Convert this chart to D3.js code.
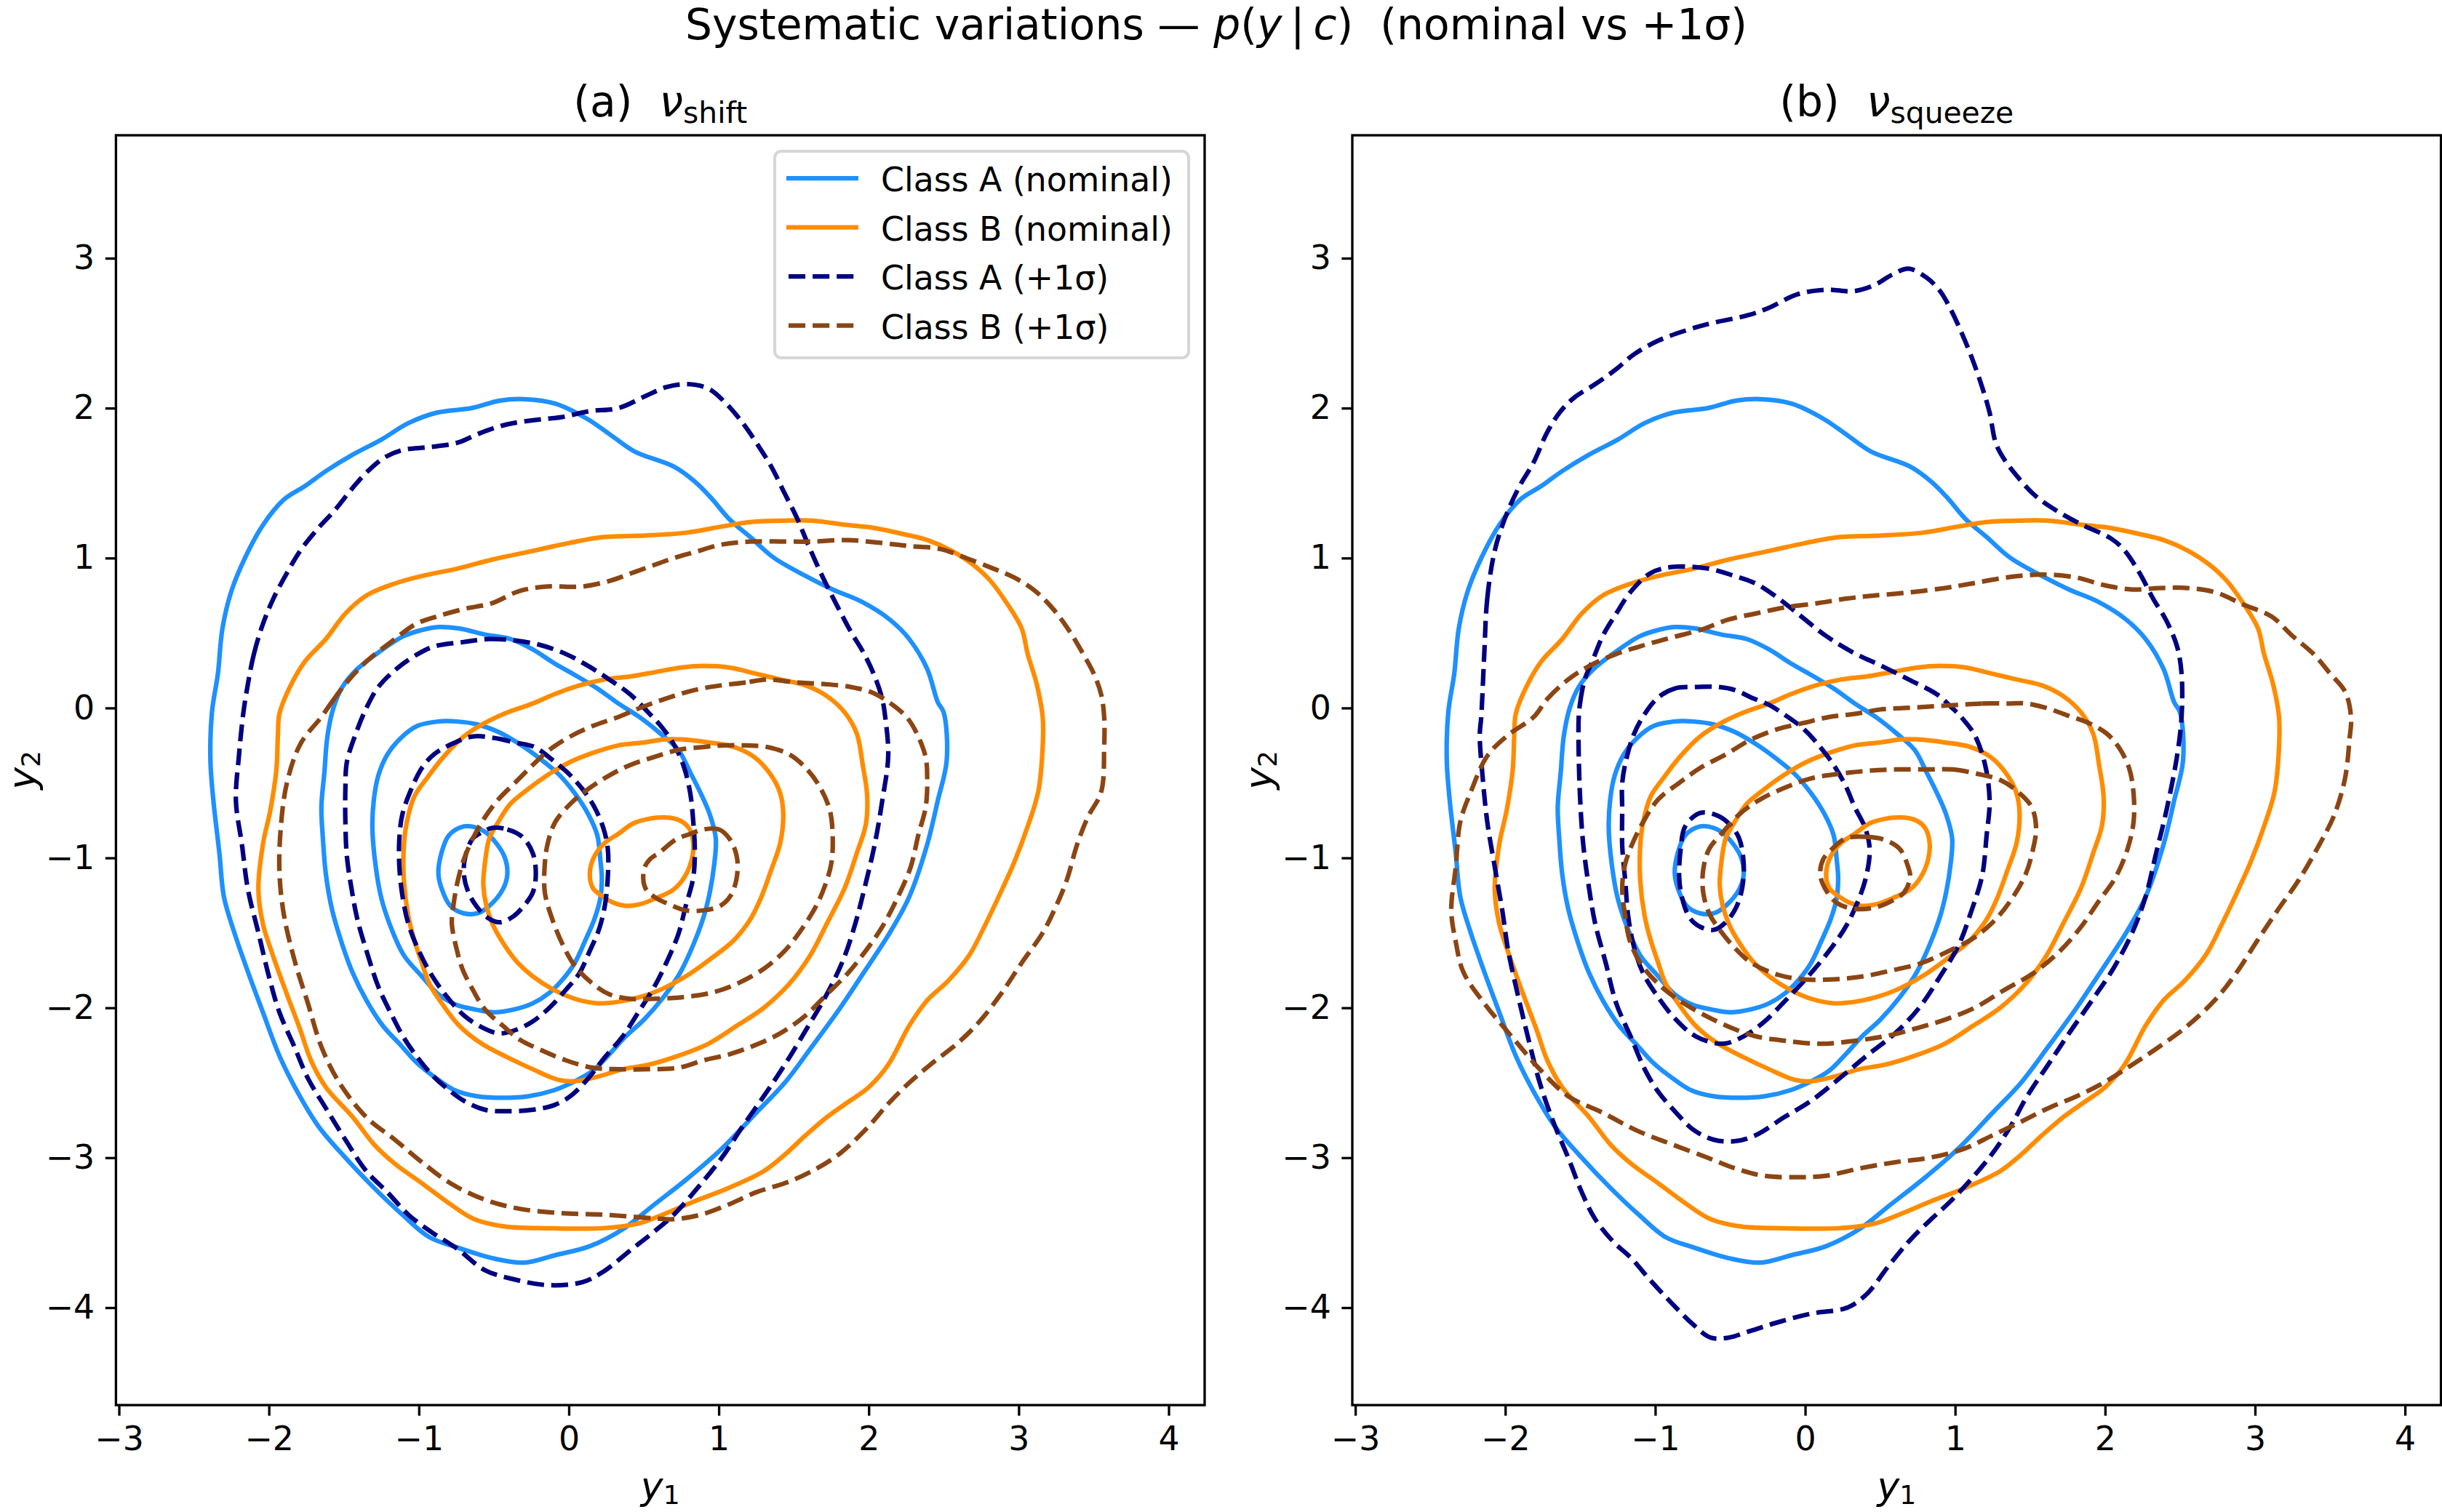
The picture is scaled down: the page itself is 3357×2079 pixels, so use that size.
<!DOCTYPE html>
<html>
<head>
<meta charset="utf-8">
<script src="https://cdn.jsdelivr.net/npm/d3@7"></script>
<style>
  body { margin: 0; background: #fff; }
  text { font-family: "DejaVu Sans", sans-serif; fill: #000; white-space: pre; }
</style>
</head>
<body>
<script>
// axis ticks and limits
var xTicks = [-3, -2, -1, 0, 1, 2, 3, 4];
var yTicks = [-4, -3, -2, -1, 0, 1, 2, 3];
var xLimits = [-3.02, 4.24];
var yLimits = [-4.65, 3.82];

var legendLabels = ["Class A (nominal)", "Class B (nominal)", "Class A (+1σ)", "Class B (+1σ)"];

// contour lines, outer level first: [y1, y2]
var classA_nominal = [
  [[-0.30,2.06],[-0.09,2.03],[0.12,1.93],[0.28,1.82],[0.44,1.71],[0.70,1.61],[0.84,1.51],[0.95,1.40],[1.07,1.26],[1.21,1.14],[1.37,1.00],[1.58,0.88],[1.76,0.79],[1.95,0.71],[2.14,0.59],[2.27,0.46],[2.39,0.26],[2.46,0.04],[2.50,-0.03],[2.52,-0.35],[2.46,-0.62],[2.39,-0.91],[2.27,-1.26],[2.14,-1.50],[1.97,-1.76],[1.81,-2.00],[1.62,-2.26],[1.44,-2.50],[1.25,-2.70],[1.02,-2.94],[0.79,-3.14],[0.56,-3.32],[0.37,-3.47],[0.14,-3.59],[-0.09,-3.65],[-0.30,-3.70],[-0.51,-3.67],[-0.74,-3.60],[-0.93,-3.53],[-1.11,-3.38],[-1.30,-3.20],[-1.49,-3.00],[-1.67,-2.79],[-1.81,-2.56],[-1.93,-2.32],[-2.04,-2.03],[-2.14,-1.76],[-2.23,-1.50],[-2.30,-1.26],[-2.33,-0.97],[-2.37,-0.62],[-2.39,-0.35],[-2.38,-0.03],[-2.34,0.23],[-2.31,0.53],[-2.25,0.78],[-2.16,1.00],[-2.04,1.22],[-1.90,1.39],[-1.76,1.48],[-1.62,1.58],[-1.44,1.69],[-1.25,1.79],[-1.07,1.90],[-0.88,1.97],[-0.65,2.00],[-0.46,2.05]],
  [[-0.87,0.54],[-0.73,0.53],[-0.56,0.49],[-0.39,0.46],[-0.24,0.39],[-0.10,0.30],[0.04,0.22],[0.19,0.13],[0.33,0.03],[0.47,-0.06],[0.61,-0.17],[0.73,-0.28],[0.81,-0.43],[0.88,-0.57],[0.94,-0.71],[0.98,-0.87],[0.97,-1.04],[0.94,-1.23],[0.90,-1.39],[0.83,-1.58],[0.74,-1.77],[0.63,-1.93],[0.50,-2.08],[0.38,-2.19],[0.27,-2.31],[0.16,-2.42],[0.04,-2.49],[-0.10,-2.55],[-0.27,-2.59],[-0.44,-2.60],[-0.61,-2.59],[-0.76,-2.55],[-0.87,-2.48],[-1.01,-2.37],[-1.12,-2.25],[-1.24,-2.12],[-1.35,-1.95],[-1.44,-1.77],[-1.51,-1.58],[-1.58,-1.34],[-1.62,-1.11],[-1.64,-0.87],[-1.65,-0.66],[-1.63,-0.43],[-1.61,-0.19],[-1.57,0.00],[-1.51,0.14],[-1.41,0.26],[-1.27,0.37],[-1.10,0.48],[-0.98,0.52]],
  [[-0.75,-0.09],[-0.61,-0.11],[-0.47,-0.16],[-0.33,-0.24],[-0.19,-0.34],[-0.07,-0.44],[0.04,-0.57],[0.13,-0.71],[0.19,-0.85],[0.21,-1.01],[0.22,-1.13],[0.21,-1.27],[0.17,-1.41],[0.11,-1.55],[0.04,-1.70],[-0.04,-1.81],[-0.13,-1.90],[-0.24,-1.97],[-0.36,-2.01],[-0.50,-2.03],[-0.63,-2.01],[-0.75,-1.98],[-0.87,-1.91],[-0.98,-1.79],[-1.10,-1.65],[-1.18,-1.48],[-1.25,-1.27],[-1.29,-1.04],[-1.31,-0.80],[-1.30,-0.61],[-1.27,-0.45],[-1.21,-0.31],[-1.12,-0.20],[-1.01,-0.12],[-0.87,-0.09]],
  [[-0.70,-0.79],[-0.61,-0.80],[-0.53,-0.85],[-0.43,-0.99],[-0.41,-1.11],[-0.44,-1.21],[-0.53,-1.32],[-0.61,-1.37],[-0.70,-1.37],[-0.79,-1.32],[-0.85,-1.20],[-0.87,-1.10],[-0.85,-0.97],[-0.80,-0.85]]
];

var classB_nominal = [
  [[-1.93,-0.04],[-1.86,0.14],[-1.76,0.31],[-1.62,0.46],[-1.49,0.63],[-1.35,0.75],[-1.16,0.83],[-0.98,0.88],[-0.74,0.93],[-0.51,0.99],[-0.23,1.05],[0.00,1.10],[0.23,1.14],[0.51,1.15],[0.79,1.17],[1.02,1.21],[1.21,1.24],[1.44,1.25],[1.62,1.25],[1.86,1.22],[2.04,1.20],[2.23,1.16],[2.39,1.12],[2.55,1.05],[2.69,0.96],[2.81,0.85],[2.92,0.70],[3.02,0.53],[3.06,0.36],[3.12,0.16],[3.16,-0.06],[3.16,-0.26],[3.13,-0.56],[3.06,-0.79],[2.97,-1.03],[2.88,-1.23],[2.78,-1.44],[2.67,-1.65],[2.53,-1.82],[2.39,-1.95],[2.27,-2.12],[2.13,-2.38],[2.00,-2.53],[1.86,-2.63],[1.72,-2.73],[1.58,-2.85],[1.44,-2.98],[1.30,-3.09],[1.07,-3.20],[0.84,-3.29],[0.65,-3.37],[0.46,-3.44],[0.23,-3.47],[-0.14,-3.47],[-0.42,-3.46],[-0.63,-3.41],[-0.79,-3.31],[-0.98,-3.17],[-1.16,-3.04],[-1.30,-2.91],[-1.44,-2.73],[-1.62,-2.53],[-1.72,-2.35],[-1.79,-2.15],[-1.88,-1.91],[-1.97,-1.66],[-2.04,-1.44],[-2.07,-1.21],[-2.04,-0.91],[-1.99,-0.68],[-1.95,-0.41],[-1.94,-0.18]],
  [[0.90,0.28],[1.07,0.27],[1.24,0.23],[1.41,0.19],[1.58,0.15],[1.72,0.08],[1.84,-0.03],[1.92,-0.17],[1.96,-0.38],[1.99,-0.59],[1.98,-0.78],[1.92,-0.97],[1.84,-1.20],[1.72,-1.44],[1.61,-1.65],[1.47,-1.84],[1.30,-2.00],[1.12,-2.12],[0.93,-2.24],[0.73,-2.32],[0.53,-2.38],[0.36,-2.41],[0.19,-2.46],[0.04,-2.49],[-0.07,-2.48],[-0.24,-2.41],[-0.41,-2.33],[-0.58,-2.24],[-0.73,-2.12],[-0.84,-1.98],[-0.93,-1.84],[-0.98,-1.70],[-1.03,-1.55],[-1.07,-1.39],[-1.10,-1.15],[-1.10,-0.92],[-1.08,-0.76],[-1.03,-0.59],[-0.94,-0.46],[-0.83,-0.32],[-0.70,-0.19],[-0.56,-0.10],[-0.41,-0.03],[-0.24,0.03],[-0.10,0.09],[0.07,0.15],[0.24,0.19],[0.41,0.21],[0.58,0.24],[0.75,0.27]],
  [[0.75,-0.21],[0.93,-0.23],[1.10,-0.26],[1.24,-0.33],[1.35,-0.45],[1.41,-0.57],[1.43,-0.71],[1.41,-0.90],[1.35,-1.08],[1.28,-1.27],[1.21,-1.41],[1.10,-1.55],[0.95,-1.67],[0.78,-1.79],[0.61,-1.88],[0.47,-1.93],[0.33,-1.96],[0.19,-1.97],[0.04,-1.94],[-0.10,-1.88],[-0.24,-1.79],[-0.34,-1.70],[-0.43,-1.58],[-0.50,-1.46],[-0.55,-1.32],[-0.57,-1.18],[-0.56,-1.04],[-0.53,-0.87],[-0.47,-0.76],[-0.39,-0.64],[-0.27,-0.54],[-0.13,-0.44],[0.01,-0.36],[0.16,-0.30],[0.33,-0.25],[0.50,-0.23],[0.64,-0.21]],
  [[0.53,-0.74],[0.64,-0.73],[0.74,-0.75],[0.80,-0.80],[0.83,-0.90],[0.82,-1.01],[0.77,-1.13],[0.70,-1.21],[0.58,-1.27],[0.47,-1.31],[0.38,-1.32],[0.30,-1.30],[0.23,-1.26],[0.16,-1.20],[0.14,-1.10],[0.17,-0.99],[0.24,-0.90],[0.33,-0.84],[0.43,-0.77]]
];

var classA_shift = [
  [[-2.14,0.16],[-2.10,0.36],[-2.04,0.56],[-1.97,0.73],[-1.88,0.90],[-1.79,1.05],[-1.67,1.20],[-1.56,1.32],[-1.44,1.47],[-1.35,1.57],[-1.23,1.67],[-1.11,1.72],[-0.93,1.74],[-0.74,1.77],[-0.60,1.83],[-0.42,1.89],[-0.23,1.92],[-0.05,1.94],[0.14,1.98],[0.33,2.00],[0.51,2.08],[0.65,2.14],[0.79,2.16],[0.93,2.13],[1.04,2.04],[1.16,1.90],[1.25,1.77],[1.35,1.61],[1.44,1.43],[1.52,1.27],[1.60,1.08],[1.69,0.88],[1.79,0.68],[1.88,0.51],[1.97,0.36],[2.04,0.21],[2.09,0.06],[2.11,-0.06],[2.13,-0.32],[2.09,-0.62],[2.04,-0.91],[1.97,-1.21],[1.91,-1.44],[1.83,-1.68],[1.72,-1.91],[1.58,-2.15],[1.44,-2.38],[1.30,-2.59],[1.16,-2.79],[1.02,-3.00],[0.86,-3.20],[0.70,-3.38],[0.56,-3.50],[0.42,-3.61],[0.23,-3.76],[0.09,-3.83],[-0.14,-3.85],[-0.37,-3.81],[-0.56,-3.75],[-0.74,-3.61],[-0.91,-3.50],[-1.07,-3.38],[-1.21,-3.23],[-1.35,-3.09],[-1.49,-2.88],[-1.62,-2.67],[-1.74,-2.47],[-1.83,-2.26],[-1.93,-2.03],[-2.00,-1.79],[-2.07,-1.50],[-2.14,-1.21],[-2.18,-0.91],[-2.22,-0.62],[-2.20,-0.32],[-2.17,-0.03]],
  [[-0.70,0.44],[-0.53,0.46],[-0.36,0.45],[-0.19,0.42],[-0.02,0.36],[0.13,0.28],[0.27,0.19],[0.41,0.09],[0.53,-0.03],[0.63,-0.14],[0.71,-0.26],[0.77,-0.40],[0.81,-0.57],[0.83,-0.76],[0.84,-0.94],[0.83,-1.13],[0.78,-1.32],[0.73,-1.51],[0.65,-1.70],[0.57,-1.86],[0.47,-2.02],[0.36,-2.19],[0.24,-2.33],[0.13,-2.47],[0.01,-2.59],[-0.10,-2.65],[-0.24,-2.68],[-0.41,-2.69],[-0.56,-2.68],[-0.70,-2.62],[-0.81,-2.54],[-0.91,-2.45],[-1.01,-2.33],[-1.10,-2.20],[-1.18,-2.05],[-1.27,-1.86],[-1.34,-1.65],[-1.41,-1.41],[-1.45,-1.20],[-1.48,-0.99],[-1.49,-0.76],[-1.49,-0.54],[-1.48,-0.36],[-1.42,-0.17],[-1.35,0.00],[-1.27,0.14],[-1.15,0.26],[-1.04,0.34],[-0.90,0.41]],
  [[-0.64,-0.19],[-0.50,-0.20],[-0.36,-0.23],[-0.23,-0.26],[-0.13,-0.33],[-0.01,-0.43],[0.09,-0.54],[0.17,-0.66],[0.23,-0.80],[0.26,-0.94],[0.26,-1.13],[0.24,-1.32],[0.20,-1.48],[0.14,-1.62],[0.07,-1.77],[-0.02,-1.88],[-0.13,-2.00],[-0.24,-2.09],[-0.36,-2.15],[-0.47,-2.17],[-0.58,-2.13],[-0.70,-2.05],[-0.81,-1.93],[-0.91,-1.79],[-1.00,-1.62],[-1.07,-1.44],[-1.11,-1.25],[-1.13,-1.06],[-1.13,-0.87],[-1.11,-0.71],[-1.05,-0.54],[-0.98,-0.40],[-0.90,-0.31],[-0.78,-0.24]],
  [[-0.51,-0.80],[-0.41,-0.81],[-0.31,-0.86],[-0.24,-0.97],[-0.22,-1.11],[-0.24,-1.23],[-0.30,-1.32],[-0.37,-1.39],[-0.46,-1.43],[-0.54,-1.40],[-0.61,-1.33],[-0.67,-1.23],[-0.70,-1.11],[-0.69,-0.99],[-0.64,-0.87],[-0.58,-0.83]]
];

var classB_shift = [
  [[-1.65,-0.06],[-1.58,0.04],[-1.49,0.16],[-1.35,0.31],[-1.16,0.46],[-1.02,0.56],[-0.88,0.61],[-0.70,0.66],[-0.51,0.70],[-0.33,0.78],[-0.14,0.81],[0.09,0.81],[0.28,0.85],[0.42,0.90],[0.56,0.95],[0.70,1.00],[0.84,1.04],[1.02,1.09],[1.21,1.11],[1.44,1.11],[1.62,1.11],[1.86,1.12],[2.09,1.10],[2.27,1.08],[2.48,1.06],[2.65,1.00],[2.83,0.93],[2.97,0.87],[3.11,0.78],[3.23,0.66],[3.34,0.51],[3.43,0.36],[3.50,0.23],[3.55,0.09],[3.57,-0.06],[3.57,-0.26],[3.55,-0.56],[3.46,-0.73],[3.39,-0.91],[3.32,-1.15],[3.25,-1.32],[3.16,-1.50],[3.02,-1.70],[2.88,-1.91],[2.74,-2.09],[2.60,-2.23],[2.41,-2.38],[2.27,-2.50],[2.13,-2.64],[2.00,-2.79],[1.81,-2.97],[1.62,-3.09],[1.44,-3.17],[1.25,-3.23],[1.07,-3.31],[0.88,-3.38],[0.70,-3.41],[0.51,-3.40],[0.23,-3.38],[-0.05,-3.37],[-0.33,-3.34],[-0.56,-3.28],[-0.79,-3.17],[-0.98,-3.03],[-1.16,-2.88],[-1.35,-2.73],[-1.53,-2.50],[-1.65,-2.26],[-1.74,-1.97],[-1.83,-1.68],[-1.90,-1.38],[-1.93,-1.09],[-1.92,-0.79],[-1.88,-0.50],[-1.79,-0.24]],
  [[1.32,0.19],[1.18,0.17],[1.01,0.15],[0.84,0.12],[0.67,0.07],[0.50,0.01],[0.33,-0.06],[0.16,-0.12],[0.01,-0.19],[-0.13,-0.28],[-0.24,-0.38],[-0.36,-0.50],[-0.47,-0.61],[-0.56,-0.73],[-0.64,-0.87],[-0.70,-1.01],[-0.74,-1.15],[-0.77,-1.32],[-0.78,-1.44],[-0.75,-1.60],[-0.71,-1.74],[-0.64,-1.88],[-0.56,-2.01],[-0.44,-2.12],[-0.33,-2.21],[-0.19,-2.28],[-0.02,-2.35],[0.16,-2.40],[0.33,-2.41],[0.53,-2.41],[0.73,-2.40],[0.90,-2.35],[1.07,-2.31],[1.24,-2.25],[1.41,-2.17],[1.58,-2.05],[1.72,-1.91],[1.86,-1.77],[1.98,-1.62],[2.09,-1.46],[2.19,-1.27],[2.28,-1.06],[2.33,-0.85],[2.38,-0.66],[2.39,-0.47],[2.38,-0.33],[2.33,-0.19],[2.26,-0.07],[2.16,0.02],[2.03,0.10],[1.88,0.14],[1.69,0.16],[1.52,0.17]],
  [[1.18,-0.25],[1.32,-0.26],[1.47,-0.31],[1.58,-0.40],[1.67,-0.52],[1.74,-0.68],[1.76,-0.87],[1.75,-1.04],[1.71,-1.18],[1.65,-1.32],[1.55,-1.48],[1.44,-1.62],[1.30,-1.74],[1.12,-1.84],[0.95,-1.90],[0.75,-1.93],[0.56,-1.94],[0.41,-1.94],[0.27,-1.91],[0.16,-1.84],[0.04,-1.72],[-0.04,-1.58],[-0.11,-1.41],[-0.16,-1.23],[-0.16,-1.04],[-0.14,-0.90],[-0.09,-0.76],[0.01,-0.64],[0.13,-0.54],[0.27,-0.45],[0.41,-0.38],[0.56,-0.33],[0.73,-0.28],[0.90,-0.26],[1.04,-0.25]],
  [[0.90,-0.81],[1.00,-0.81],[1.07,-0.87],[1.12,-0.99],[1.12,-1.13],[1.08,-1.25],[1.01,-1.32],[0.90,-1.35],[0.78,-1.35],[0.67,-1.31],[0.57,-1.26],[0.51,-1.20],[0.50,-1.08],[0.54,-1.01],[0.61,-0.96],[0.71,-0.88],[0.81,-0.84]]
];

var classA_squeeze = [
  [[-2.14,0.36],[-2.12,0.73],[-2.07,1.05],[-2.00,1.27],[-1.91,1.47],[-1.81,1.64],[-1.72,1.84],[-1.63,1.98],[-1.54,2.07],[-1.40,2.16],[-1.26,2.26],[-1.14,2.36],[-0.98,2.45],[-0.79,2.52],[-0.61,2.57],[-0.38,2.62],[-0.24,2.67],[-0.05,2.76],[0.14,2.79],[0.32,2.78],[0.46,2.82],[0.58,2.89],[0.69,2.93],[0.81,2.87],[0.90,2.78],[0.97,2.66],[1.04,2.51],[1.11,2.34],[1.18,2.14],[1.23,1.97],[1.27,1.77],[1.32,1.67],[1.41,1.55],[1.53,1.42],[1.67,1.32],[1.85,1.22],[2.04,1.13],[2.13,1.05],[2.23,0.90],[2.32,0.73],[2.41,0.58],[2.48,0.41],[2.51,0.23],[2.51,-0.06],[2.48,-0.32],[2.41,-0.68],[2.34,-0.97],[2.27,-1.26],[2.18,-1.50],[2.06,-1.73],[1.92,-1.94],[1.76,-2.17],[1.62,-2.38],[1.48,-2.59],[1.37,-2.79],[1.25,-2.97],[1.11,-3.14],[0.97,-3.29],[0.83,-3.42],[0.69,-3.56],[0.55,-3.73],[0.41,-3.91],[0.28,-4.00],[0.04,-4.04],[-0.19,-4.10],[-0.38,-4.16],[-0.51,-4.20],[-0.63,-4.20],[-0.75,-4.11],[-0.89,-3.97],[-1.03,-3.82],[-1.16,-3.67],[-1.28,-3.56],[-1.40,-3.41],[-1.49,-3.23],[-1.58,-3.00],[-1.68,-2.76],[-1.77,-2.50],[-1.84,-2.23],[-1.91,-1.94],[-1.98,-1.62],[-2.02,-1.35],[-2.07,-1.06],[-2.12,-0.76],[-2.15,-0.47],[-2.17,-0.18],[-2.16,-0.06]],
  [[-1.51,-0.06],[-1.50,0.04],[-1.47,0.19],[-1.42,0.31],[-1.35,0.48],[-1.26,0.63],[-1.16,0.78],[-1.03,0.90],[-0.89,0.94],[-0.65,0.93],[-0.47,0.88],[-0.33,0.83],[-0.19,0.74],[-0.05,0.63],[0.14,0.48],[0.32,0.37],[0.51,0.28],[0.69,0.19],[0.88,0.09],[0.97,0.01],[1.04,-0.06],[1.13,-0.18],[1.20,-0.38],[1.23,-0.62],[1.21,-0.85],[1.18,-1.12],[1.11,-1.35],[1.02,-1.59],[0.90,-1.79],[0.76,-2.00],[0.60,-2.17],[0.41,-2.32],[0.23,-2.47],[0.04,-2.62],[-0.14,-2.73],[-0.33,-2.85],[-0.47,-2.89],[-0.61,-2.88],[-0.75,-2.81],[-0.86,-2.70],[-0.98,-2.56],[-1.07,-2.41],[-1.16,-2.20],[-1.26,-1.97],[-1.33,-1.70],[-1.40,-1.44],[-1.44,-1.21],[-1.48,-0.91],[-1.50,-0.62],[-1.51,-0.32]],
  [[-0.73,0.14],[-0.87,0.13],[-0.98,0.07],[-1.07,-0.04],[-1.14,-0.17],[-1.19,-0.33],[-1.22,-0.50],[-1.22,-0.68],[-1.22,-0.92],[-1.20,-1.15],[-1.18,-1.39],[-1.14,-1.60],[-1.08,-1.77],[-0.98,-1.93],[-0.87,-2.07],[-0.73,-2.19],[-0.55,-2.24],[-0.41,-2.19],[-0.27,-2.09],[-0.13,-1.95],[0.02,-1.79],[0.16,-1.62],[0.27,-1.46],[0.36,-1.27],[0.41,-1.11],[0.43,-0.94],[0.40,-0.80],[0.33,-0.66],[0.27,-0.52],[0.19,-0.38],[0.10,-0.26],[-0.01,-0.14],[-0.13,-0.05],[-0.24,0.02],[-0.36,0.07],[-0.47,0.12],[-0.58,0.14]],
  [[-0.70,-0.70],[-0.58,-0.72],[-0.50,-0.78],[-0.44,-0.87],[-0.41,-1.04],[-0.42,-1.20],[-0.46,-1.33],[-0.53,-1.43],[-0.61,-1.48],[-0.70,-1.46],[-0.77,-1.40],[-0.82,-1.27],[-0.84,-1.13],[-0.83,-0.94],[-0.80,-0.79]]
];

var classB_squeeze = [
  [[-1.81,-0.06],[-1.72,0.06],[-1.58,0.19],[-1.44,0.28],[-1.26,0.36],[-1.07,0.42],[-0.89,0.47],[-0.70,0.52],[-0.51,0.59],[-0.33,0.63],[-0.14,0.67],[0.09,0.70],[0.28,0.73],[0.46,0.75],[0.69,0.77],[0.93,0.80],[1.11,0.83],[1.34,0.87],[1.58,0.89],[1.81,0.87],[1.99,0.82],[2.18,0.79],[2.36,0.80],[2.55,0.80],[2.74,0.77],[2.92,0.69],[3.11,0.61],[3.25,0.48],[3.39,0.36],[3.50,0.23],[3.60,0.11],[3.64,-0.06],[3.63,-0.21],[3.60,-0.47],[3.53,-0.71],[3.43,-0.91],[3.29,-1.15],[3.15,-1.35],[3.01,-1.56],[2.88,-1.76],[2.74,-1.94],[2.55,-2.12],[2.36,-2.26],[2.18,-2.38],[1.99,-2.50],[1.81,-2.59],[1.62,-2.67],[1.44,-2.76],[1.25,-2.85],[1.06,-2.94],[0.83,-3.00],[0.60,-3.03],[0.37,-3.07],[0.14,-3.12],[-0.05,-3.13],[-0.28,-3.12],[-0.47,-3.07],[-0.65,-3.00],[-0.89,-2.91],[-1.12,-2.82],[-1.35,-2.70],[-1.58,-2.59],[-1.77,-2.41],[-1.95,-2.20],[-2.14,-1.97],[-2.28,-1.76],[-2.33,-1.56],[-2.36,-1.35],[-2.33,-1.06],[-2.30,-0.76],[-2.23,-0.56],[-2.12,-0.32],[-1.98,-0.18]],
  [[1.35,0.03],[1.18,0.03],[1.01,0.02],[0.84,0.01],[0.67,0.00],[0.50,-0.01],[0.33,-0.04],[0.16,-0.06],[-0.01,-0.10],[-0.18,-0.14],[-0.36,-0.21],[-0.53,-0.31],[-0.70,-0.40],[-0.84,-0.50],[-0.98,-0.61],[-1.08,-0.76],[-1.15,-0.90],[-1.20,-1.04],[-1.22,-1.20],[-1.20,-1.39],[-1.17,-1.55],[-1.10,-1.70],[-0.98,-1.84],[-0.84,-1.95],[-0.67,-2.05],[-0.50,-2.13],[-0.33,-2.19],[-0.13,-2.22],[0.10,-2.24],[0.33,-2.22],[0.53,-2.19],[0.73,-2.14],[0.93,-2.08],[1.13,-2.00],[1.33,-1.88],[1.52,-1.77],[1.70,-1.62],[1.84,-1.46],[1.95,-1.30],[2.07,-1.13],[2.15,-0.94],[2.19,-0.76],[2.19,-0.57],[2.16,-0.40],[2.09,-0.26],[2.01,-0.17],[1.89,-0.10],[1.75,-0.05],[1.61,0.00],[1.47,0.03]],
  [[0.81,-0.41],[0.98,-0.41],[1.15,-0.44],[1.30,-0.48],[1.42,-0.56],[1.51,-0.66],[1.54,-0.80],[1.52,-0.94],[1.47,-1.11],[1.38,-1.27],[1.27,-1.41],[1.13,-1.53],[0.96,-1.62],[0.78,-1.70],[0.58,-1.75],[0.39,-1.79],[0.19,-1.81],[-0.01,-1.81],[-0.18,-1.78],[-0.36,-1.70],[-0.47,-1.60],[-0.57,-1.48],[-0.64,-1.37],[-0.68,-1.23],[-0.68,-1.08],[-0.64,-0.94],[-0.55,-0.83],[-0.44,-0.71],[-0.30,-0.61],[-0.13,-0.53],[0.04,-0.47],[0.22,-0.44],[0.41,-0.42],[0.61,-0.41]],
  [[0.27,-0.87],[0.41,-0.86],[0.53,-0.88],[0.63,-0.94],[0.68,-1.04],[0.70,-1.13],[0.66,-1.23],[0.59,-1.28],[0.47,-1.33],[0.33,-1.34],[0.21,-1.30],[0.13,-1.20],[0.10,-1.11],[0.12,-1.01],[0.19,-0.93]]
];

// styles, kept apart from the values
var seriesStyle = [
  {color: "#1e90ff", dash: null},
  {color: "#ff8c00", dash: null},
  {color: "#000080", dash: "23.1,10"},
  {color: "#8b4513", dash: "23.1,10"}
];

var W = 3357, H = 2079;
var plotW = 1496.6, plotH = 1746, plotTop = 186;
var lw = 6.25, fs = 45.8, titleFs = 58.3, labelFs = 52;

var panels = [
  {left: 159.4, tag: "(a)", sub: "shift", sets: [classA_nominal, classB_nominal, classA_shift, classB_shift], legend: true},
  {left: 1859, tag: "(b)", sub: "squeeze", sets: [classA_nominal, classB_nominal, classA_squeeze, classB_squeeze], legend: false}
];

var svg = d3.select("body").append("svg")
  .attr("width", W)
  .attr("height", H);

svg.append("rect").attr("width", W).attr("height", H).attr("fill", "#fff");

// suptitle with the math bits in italics
var sup = svg.append("text")
  .attr("x", 1672).attr("y", 54)
  .attr("text-anchor", "middle")
  .style("font-size", titleFs + "px");
sup.append("tspan").text("Systematic variations — ");
sup.append("tspan").style("font-style", "italic").text("p");
sup.append("tspan").text("(");
sup.append("tspan").style("font-style", "italic").text("y");
sup.append("tspan").text("\u2009|\u2009");
sup.append("tspan").style("font-style", "italic").text("c");
sup.append("tspan").text(")  (nominal vs +1σ)");

var x = d3.scaleLinear().domain(xLimits).range([0, plotW]);
var y = d3.scaleLinear().domain(yLimits).range([plotH, 0]);

var line = d3.line()
  .x(function(d) { return x(d[0]); })
  .y(function(d) { return y(d[1]); })
  .curve(d3.curveCatmullRomClosed.alpha(0.5));

var minus = function(d) { return d < 0 ? "\u2212" + Math.abs(d) : String(d); };

panels.forEach(function(p, pi) {
  var g = svg.append("g").attr("transform", "translate(" + p.left + "," + plotTop + ")");

  g.append("clipPath").attr("id", "clip" + pi)
    .append("rect").attr("width", plotW).attr("height", plotH);

  var plot = g.append("g").attr("clip-path", "url(#clip" + pi + ")");

  p.sets.forEach(function(levels, si) {
    var st = seriesStyle[si];
    plot.selectAll(null)
      .data(levels)
      .enter()
      .append("path")
      .attr("d", line)
      .attr("fill", "none")
      .attr("stroke", st.color)
      .attr("stroke-width", lw)
      .attr("stroke-linejoin", "round")
      .attr("stroke-dasharray", st.dash);
  });

  // axes
  var xa = g.append("g").attr("transform", "translate(0," + plotH + ")")
    .call(d3.axisBottom(x).tickValues(xTicks).tickSize(14.6).tickSizeOuter(0).tickPadding(14.6).tickFormat(minus));
  var ya = g.append("g")
    .call(d3.axisLeft(y).tickValues(yTicks).tickSize(14.6).tickSizeOuter(0).tickPadding(14.6).tickFormat(minus));
  [xa, ya].forEach(function(a) {
    a.select(".domain").remove();
    a.selectAll("line").attr("stroke", "#000").attr("stroke-width", 3.33);
    a.selectAll("text").attr("fill", "#000").style("font-size", fs + "px").style("font-family", "DejaVu Sans");
  });

  g.append("rect")
    .attr("width", plotW).attr("height", plotH)
    .attr("fill", "none").attr("stroke", "#000").attr("stroke-width", 3.33);

  // axis labels, kept inside the picture
  var xl = g.append("text")
    .attr("x", plotW / 2).attr("y", 2061 - plotTop)
    .attr("text-anchor", "middle")
    .style("font-size", labelFs + "px");
  xl.append("tspan").style("font-style", "italic").text("y");
  xl.append("tspan").attr("dy", 7).style("font-size", "36px").text("1");

  var yl = g.append("text")
    .attr("transform", "translate(" + (48 - 159.4) + "," + (plotH / 2) + ") rotate(-90)")
    .attr("text-anchor", "middle")
    .style("font-size", labelFs + "px");
  yl.append("tspan").style("font-style", "italic").text("y");
  yl.append("tspan").attr("dy", 7).style("font-size", "36px").text("2");

  // panel title
  var t = g.append("text")
    .attr("x", plotW / 2).attr("y", 160 - plotTop)
    .attr("text-anchor", "middle")
    .style("font-size", titleFs + "px");
  t.append("tspan").text(p.tag + "  ");
  t.append("tspan").style("font-style", "italic").text("ν");
  t.append("tspan").attr("dy", 9).style("font-size", "40.8px").text(p.sub);

  if (p.legend) {
    var lg = svg.append("g").attr("transform", "translate(1065,208)");
    lg.append("rect")
      .attr("width", 569).attr("height", 284)
      .attr("rx", 9).attr("ry", 9)
      .attr("fill", "#fff").attr("fill-opacity", 0.8)
      .attr("stroke", "#cccccc").attr("stroke-opacity", 0.8).attr("stroke-width", 4.2);
    legendLabels.forEach(function(lab, i) {
      var st = seriesStyle[i];
      var row = lg.append("g").attr("transform", "translate(0," + (37 + i * 67.5) + ")");
      row.append("line")
        .attr("x1", st.dash ? 19 : 16).attr("x2", st.dash ? 112 : 115)
        .attr("stroke", st.color).attr("stroke-width", lw)
        .attr("stroke-dasharray", st.dash);
      row.append("text")
        .attr("x", 146).attr("y", 18)
        .style("font-size", fs + "px")
        .text(lab);
    });
  }
});
</script>
</body>
</html>
